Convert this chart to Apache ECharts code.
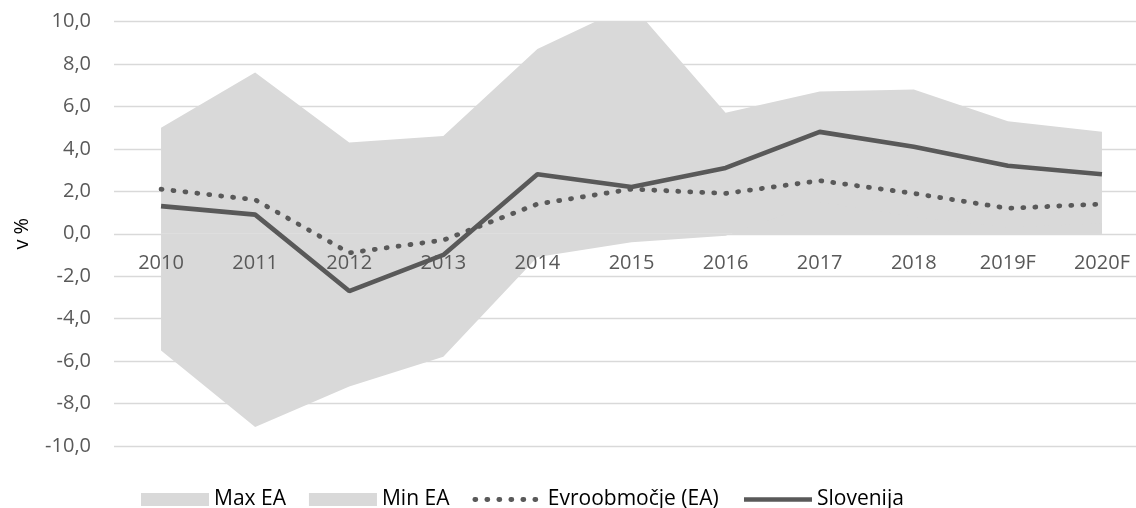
<!DOCTYPE html>
<html>
<head>
<meta charset="utf-8">
<script src="https://cdn.jsdelivr.net/npm/echarts@6/dist/echarts.min.js"></script>
<style>
  html, body { margin: 0; padding: 0; background: #fff; }
  #chart { width: 1136px; height: 508px; }
</style>
</head>
<body>
<div id="chart"></div>
<script>
const years = ["2010", "2011", "2012", "2013", "2014", "2015", "2016", "2017", "2018", "2019F", "2020F"];
const maxEA = [5.0, 7.6, 4.3, 4.6, 8.7, 10.8, 5.7, 6.7, 6.8, 5.3, 4.8];
const minEA = [-5.5, -9.1, -7.2, -5.8, -1.1, -0.4, -0.1, 1.5, 0.8, 0.3, 0.5];
const evroobmocje = [2.1, 1.6, -0.9, -0.3, 1.4, 2.1, 1.9, 2.5, 1.9, 1.2, 1.4];
const slovenija = [1.3, 0.9, -2.7, -1.0, 2.8, 2.2, 3.1, 4.8, 4.1, 3.2, 2.8];

const FONT = "Open Sans";
const AREA = "#d9d9d9";
const LINE = "#595959";
// short dash + round cap gives round dots
const dotted = { color: LINE, width: 4.8, type: [1, 11], cap: "round", join: "round" };

const chart = echarts.init(document.getElementById("chart"));
chart.setOption({
  animation: false,
  grid: { left: 114, right: -13, top: 21.5, bottom: 62, outerBoundsMode: "none" },
  legend: {
    left: 136,
    top: 484,
    itemWidth: 68,
    itemHeight: 13,
    itemGap: 23,
    textStyle: { fontFamily: FONT, fontSize: 21, color: "#000" },
    data: [
      { name: "Max EA", icon: "rect" },
      { name: "Min EA", icon: "rect" },
      { name: "Evroobmočje (EA)", itemStyle: { opacity: 0 }, lineStyle: dotted },
      { name: "Slovenija", itemStyle: { opacity: 0 }, lineStyle: { color: LINE, width: 4.6 } },
    ],
  },
  xAxis: {
    type: "category",
    data: years,
    z: 3,
    offset: -212.5,
    axisLine: { show: false, onZero: false },
    axisTick: { show: false },
    axisLabel: { fontFamily: FONT, fontSize: 20, color: "#595959", margin: 20 },
  },
  yAxis: {
    type: "value",
    min: -10,
    max: 10,
    interval: 2,
    name: "v %",
    nameLocation: "middle",
    nameGap: 82,
    nameTextStyle: { fontFamily: FONT, fontSize: 20, color: "#000" },
    axisLine: { show: false },
    axisTick: { show: false },
    splitLine: { lineStyle: { color: "#d9d9d9", width: 1.3 } },
    axisLabel: {
      fontFamily: FONT,
      fontSize: 20,
      color: "#595959",
      margin: 23,
      formatter: (v) => v.toFixed(1).replace(".", ","),
    },
  },
  series: [
    {
      name: "Max EA",
      type: "line",
      data: maxEA,
      z: 1,
      symbol: "none",
      itemStyle: { color: AREA },
      lineStyle: { width: 0 },
      areaStyle: { color: AREA, opacity: 1 },
    },
    {
      name: "Min EA",
      type: "line",
      data: minEA,
      z: 1,
      symbol: "none",
      itemStyle: { color: AREA },
      lineStyle: { width: 0 },
      areaStyle: { color: AREA, opacity: 1 },
    },
    {
      name: "Evroobmočje (EA)",
      type: "line",
      data: evroobmocje,
      z: 4,
      symbol: "none",
      itemStyle: { color: LINE },
      lineStyle: dotted,
    },
    {
      name: "Slovenija",
      type: "line",
      data: slovenija,
      z: 5,
      symbol: "none",
      itemStyle: { color: LINE },
      lineStyle: { color: LINE, width: 4.6 },
    },
  ],
});
</script>
</body>
</html>
